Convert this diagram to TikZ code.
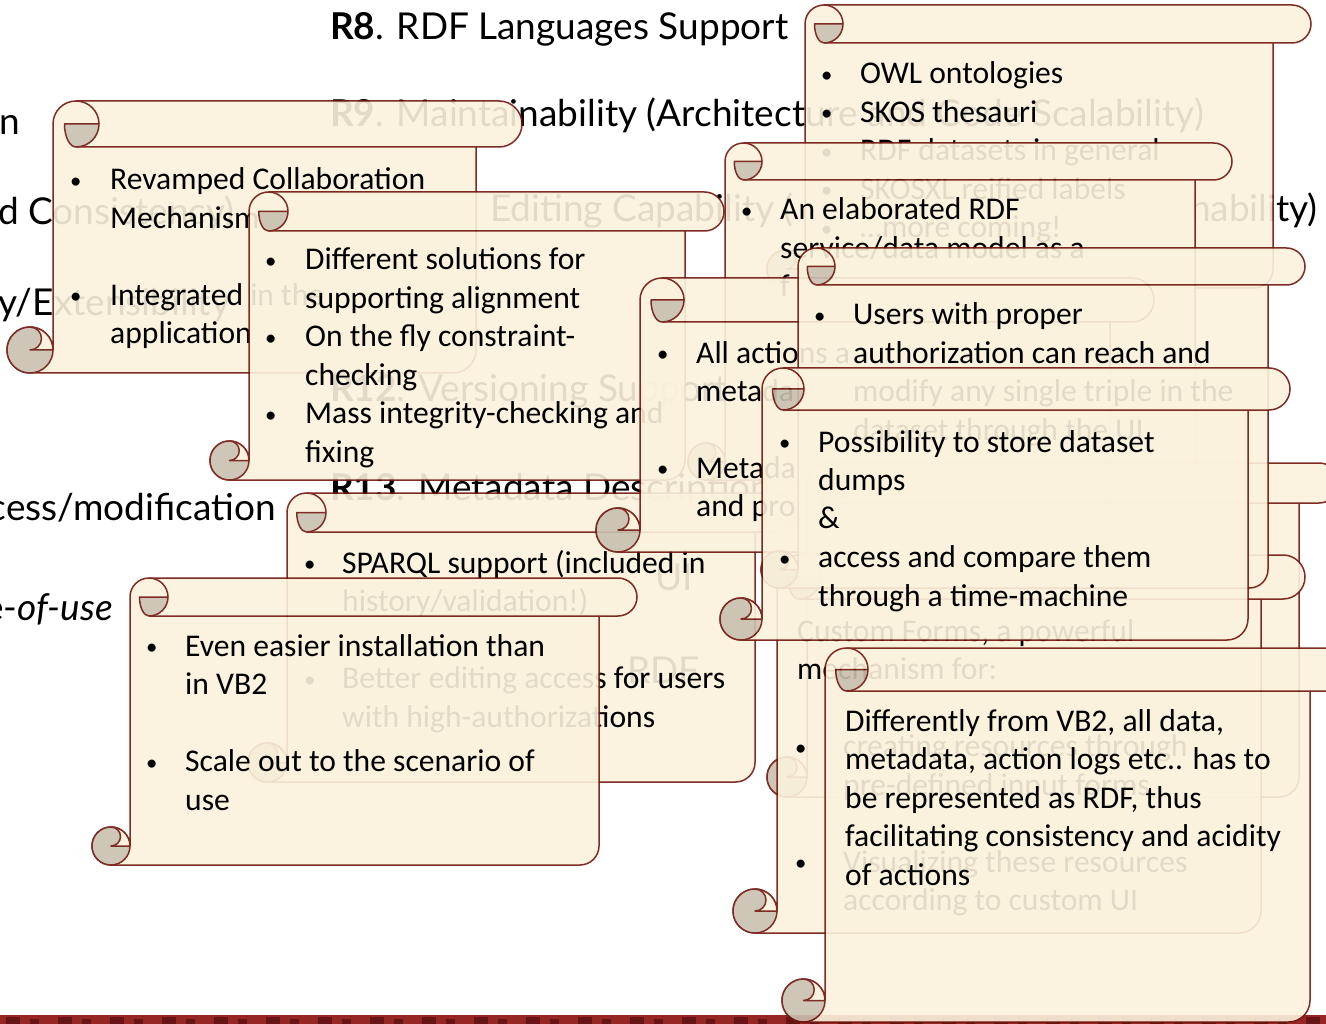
\documentclass[tikz,border=0pt]{standalone}
\usepackage{fontspec}
\setmainfont{Carlito}
\newfontfamily\slidefont{Lato}

\definecolor{parch}{RGB}{251,242,221}
\definecolor{rollgrey}{RGB}{201,192,176}
\definecolor{rim}{RGB}{112,22,14}
\definecolor{band}{RGB}{150,38,36}
\definecolor{banddark}{RGB}{105,20,20}

\tikzset{
  rimline/.style={draw=rim, line width=1.5pt, line join=round},
  bodytext/.style={inner sep=0pt, anchor=base west, font=\fontsize{31.6}{38.5}\selectfont},
  slidetext/.style={inner sep=0pt, font=\slidefont\fontsize{37}{44}\selectfont},
}

% list bullet
\newcommand\bul{\raisebox{1.5pt}{\scalebox{0.72}{\textbullet}}}

% A parchment scroll: #1 left (bottom roll), #2 top, #3 right end of the top roll,
% #4 bottom, #5 roll thickness. Coordinates are in pixels, y growing downwards.
\newcommand\scroll[5]{%
  \begin{scope}[transparency group, opacity=0.9]
    \pgfmathsetmacro\skL{#1}\pgfmathsetmacro\skT{#2}%
    \pgfmathsetmacro\skR{#3}\pgfmathsetmacro\skB{#4}%
    \pgfmathsetmacro\skC{#5}%
    \pgfmathsetmacro\skH{\skC/2}%
    \pgfmathsetmacro\skQ{\skC/4}%
    \pgfmathsetmacro\skBL{\skL+\skC}%
    \pgfmathsetmacro\skBR{\skR-\skC}%
    \pgfmathsetmacro\skTX{\skL+1.5*\skC}%
    \pgfmathsetmacro\skTY{\skT+\skH}%
    \pgfmathsetmacro\skBX{\skL+\skH}%
    \pgfmathsetmacro\skBY{\skB-\skH}%
    % parchment body with top roll and bottom roll
    \filldraw[rimline, fill=parch]
      (\skBL,\skTY) arc[start angle=180, end angle=270, radius=\skH]
      -- (\skR-\skH,\skT) arc[start angle=270, end angle=450, radius=\skH]
      -- (\skBR,\skT+\skC) -- (\skBR,\skB-\skH)
      arc[start angle=0, end angle=90, radius=\skH]
      -- (\skBX,\skB) arc[start angle=90, end angle=360, radius=\skH]
      -- cycle;
    % lower edge of the top roll
    \draw[rimline] (\skTX,\skT+\skC) -- (\skBR,\skT+\skC);
    % inside of the top curl
    \filldraw[rimline, fill=rollgrey]
      (\skTX+\skH,\skTY) -- (\skTX-\skQ,\skTY)
      arc[start angle=180, end angle=90, x radius=\skQ, y radius=\skH]
      arc[start angle=90, end angle=0, radius=\skH] -- cycle;
    % upper right part of the top curl
    \draw[rimline] (\skTX,\skT) arc[start angle=270, end angle=360, radius=\skH];
    % bottom curl
    \fill[rollgrey] (\skBX,\skBY) circle[radius=\skH];
    \fill[parch] (\skBX,\skBY) -- (\skBL,\skBY)
      arc[start angle=0, end angle=-90, radius=\skH]
      arc[start angle=-90, end angle=90, radius=\skQ] -- cycle;
    \draw[rimline] (\skBX,\skBY) circle[radius=\skH];
    \draw[rimline] (\skBL,\skBY) -- (\skBX,\skBY)
      arc[start angle=90, end angle=-90, radius=\skQ];
  \end{scope}}

\begin{document}
\begin{tikzpicture}[x=1pt, y=-1pt]
  \useasboundingbox (0,0) rectangle (1326,1024);
  \clip (0,0) rectangle (1326,1024);
  \fill[white] (0,0) rectangle (1326,1024);

  % decorative footer band
  \fill[band] (0,1015) rectangle (1326,1024);
  \foreach \i in {0,...,26} {
    \fill[banddark] (\i*52+6,1017) rectangle +(14,7);
    \fill[banddark] (\i*52+30,1019) rectangle +(9,5);
  }

  % slide text behind the scrolls
  \node[slidetext, anchor=base west] (r8) at (330,40) {\textbf{R8}. RDF Languages Support};
  \node[slidetext, anchor=base west] (r9) at (330,127) {\textbf{R9}. Maintainability (Architecture and Code Scalability)};
  \node[slidetext, anchor=base east] (lon) at (20,135) {on};
  \node[slidetext, anchor=base west] (lcons) at (-2,225) {d Consistency)};
  \node[slidetext, anchor=base west] (lext) at (-2,316) {y/Extensibility};
  \node[slidetext, anchor=base east] (lmod) at (276,520) {cess/modification};
  \node[slidetext, anchor=base east] (luse) at (113,620) {e-\textit{of-use}};
  \node[slidetext, anchor=base west] (r10a) at (490,222) {Editing Capability (};
  \node[slidetext, anchor=base east] (r10b) at (1318,222) {hability)};
  \node[slidetext, anchor=base west] (r12) at (330,402) {\textbf{R12}. Versioning Support};
  \node[slidetext, anchor=base west] (r13) at (330,500) {\textbf{R13}. Metadata Description};
  \node[slidetext, anchor=base east] (r14) at (693,590) {UI};
  \node[slidetext, anchor=base east] (r15) at (700,683) {RDF};

  % collaboration
  \scroll{7}{101}{522}{373}{46}
  \node[bodytext] (collab) at (70,190) {\begin{tabular}[t]{@{}p{40pt}@{}l@{}}
    \bul & Revamped Collaboration\\ & Mechanism\\ & \\
    \bul & Integrated in the\\ & application\end{tabular}};

  % alignment and constraints
  \scroll{210}{192}{724}{480}{39}
  \node[bodytext] (align) at (265,270) {\begin{tabular}[t]{@{}p{40pt}@{}l@{}}
    \bul & Different solutions for\\ & supporting alignment\\
    \bul & On the fly constraint-\\ & checking\\
    \bul & Mass integrity-checking and\\ & fixing\end{tabular}};

  % SPARQL
  \scroll{248}{493}{794}{782}{39}
  \node[bodytext] (sparql) at (304,573) {\begin{tabular}[t]{@{}p{38pt}@{}l@{}}
    \bul & SPARQL support (included in\\ & history/validation!)\\ & \\
    \bul & Better editing access for users\\ & with high-authorizations\end{tabular}};

  % RDF languages
  \scroll{767}{5}{1311}{288}{38}
  \node[bodytext] (langs) at (821,84) {\begin{tabular}[t]{@{}p{39pt}@{}l@{}}
    \bul & OWL ontologies\\ \bul & SKOS thesauri\\
    \bul & RDF datasets in general\\ \bul & SKOSXL reified labels\\
    \bul & \dots more coming!\end{tabular}};

  % service/data model
  \scroll{688}{143}{1232}{480}{37}
  \node[bodytext] (model) at (741,220) {\begin{tabular}[t]{@{}p{39pt}@{}l@{}}
    \bul & An elaborated RDF\\ & service/data model as a\\ & f\end{tabular}};

  % actions and metadata
  \scroll{596}{278}{1154}{552}{44}
  \node[bodytext] (actions) at (657,363) {\begin{tabular}[t]{@{}p{39pt}@{}l@{}}
    \bul & All actions a\\ & metada\\ & \\
    \bul & Metada\\ & and pro\end{tabular}};

  % scroll on the right, mostly covered
  \scroll{767}{463}{1339}{797}{40}

  % custom forms
  \scroll{733}{555}{1305}{933}{44}
  \node[bodytext] (custom) at (795,641) {\begin{tabular}[t]{@{}p{48pt}@{}l@{}}
    \multicolumn{2}{@{\hspace{2pt}}l@{}}{Custom Forms, a powerful}\\
    \multicolumn{2}{@{\hspace{2pt}}l@{}}{mechanism for:}\\ & \\
    \bul & creating resources through\\ & pre-defined input forms\\ & \\
    \bul & Visualizing these resources\\ & according to custom UI\end{tabular}};

  % users
  \scroll{761}{248}{1305}{588}{37}
  \node[bodytext] (users) at (814,325) {\begin{tabular}[t]{@{}p{39pt}@{}l@{}}
    \bul & Users with proper\\ & authorization can reach and\\
    & modify any single triple in the\\ & dataset through the UI\end{tabular}};

  % dumps
  \scroll{720}{368}{1290}{640}{42}
  \node[bodytext] (dumps) at (779,452) {\begin{tabular}[t]{@{}p{39pt}@{}l@{}}
    \bul & Possibility to store dataset\\ & dumps\\ & \&\\
    \bul & access and compare them\\ & through a time-machine\end{tabular}};

  % installation
  \scroll{92}{578}{637}{865}{38}
  \node[bodytext] (install) at (146,656) {\begin{tabular}[t]{@{}p{39pt}@{}l@{}}
    \bul & Even easier installation than\\ & in VB2\\ & \\
    \bul & Scale out to the scenario of\\ & use\end{tabular}};

  % everything as RDF
  \scroll{782}{648}{1353}{1022}{43}
  \node[bodytext] (asrdf) at (845,731) {\begin{tabular}[t]{@{}l@{}}
    Differently from VB2, all data,\\ metadata, action logs etc.. has to\\
    be represented as RDF, thus\\ facilitating consistency and acidity\\
    of actions\end{tabular}};
\end{tikzpicture}
\end{document}
